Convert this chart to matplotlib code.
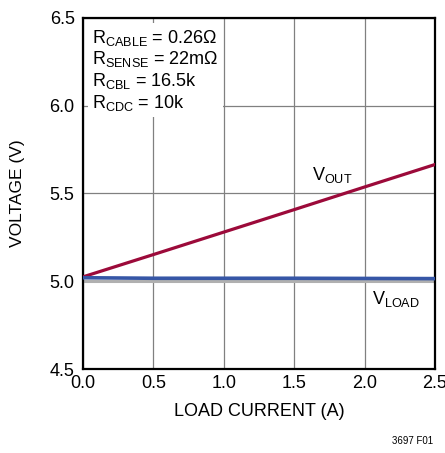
import matplotlib
matplotlib.use("Agg")
from matplotlib import pyplot as plt
import numpy as np

plt.rcParams['font.family'] = ['Liberation Sans', 'DejaVu Sans']
plt.rcParams['mathtext.fontset'] = 'custom'
plt.rcParams['mathtext.rm'] = 'Liberation Sans'
plt.rcParams['mathtext.it'] = 'Liberation Sans'

# load current (A) and measured voltages (V)
current = np.array([0.0, 0.5, 1.0, 1.5, 2.0, 2.5])
vout = np.array([5.025, 5.152, 5.28, 5.408, 5.537, 5.665])
vload = np.array([5.02, 5.017, 5.017, 5.017, 5.016, 5.015])

xticks = [0.0, 0.5, 1.0, 1.5, 2.0, 2.5]
yticks = [4.5, 5.0, 5.5, 6.0, 6.5]

fig = plt.figure(figsize=(4.45, 4.53), dpi=100)
ax = fig.add_axes([0.1865, 0.1854, 0.791, 0.775])

ax.plot(current, vout, color='#9c0a3a', lw=2.3, zorder=3)
ax.plot(current, vload, color='#3656a6', lw=2.6, zorder=3)

ax.set_xlim(0, 2.5)
ax.set_ylim(4.5, 6.5)
ax.set_xticks(xticks)
ax.set_yticks(yticks)
ax.set_xticklabels([f"{t:.1f}" for t in xticks], fontsize=13)
ax.set_yticklabels([f"{t:.1f}" for t in yticks], fontsize=13)
ax.tick_params(length=0, pad=6)
ax.tick_params(axis='x', pad=4)
ax.grid(True, color='#808080', lw=0.9)
ax.axhline(5.0, color='#b0b0b0', lw=2.2, zorder=2)
for s in ax.spines.values():
    s.set_linewidth(1.6)

ax.set_xlabel("LOAD CURRENT (A)", fontsize=13, labelpad=8)
ax.set_ylabel("VOLTAGE (V)", fontsize=12.5, labelpad=18)

txt = ("$\\mathregular{R_{CABLE}}$ = 0.26Ω\n"
       "$\\mathregular{R_{SENSE}}$ = 22mΩ\n"
       "$\\mathregular{R_{CBL}}$ = 16.5k\n"
       "$\\mathregular{R_{CDC}}$ = 10k")
ax.text(0.065, 6.445, txt, fontsize=13, va='top', ha='left', linespacing=1.12,
        bbox=dict(facecolor='white', edgecolor='none', pad=3), zorder=4)

ax.text(1.63, 5.55, "$\\mathregular{V_{OUT}}$", fontsize=13, ha='left', va='bottom')
ax.text(2.05, 4.9, "$\\mathregular{V_{LOAD}}$", fontsize=13, ha='left', va='center')

fig.text(0.973, 0.015, "3697 F01", fontsize=7, ha='right', va='bottom')

fig.savefig("out.png", dpi=100)
